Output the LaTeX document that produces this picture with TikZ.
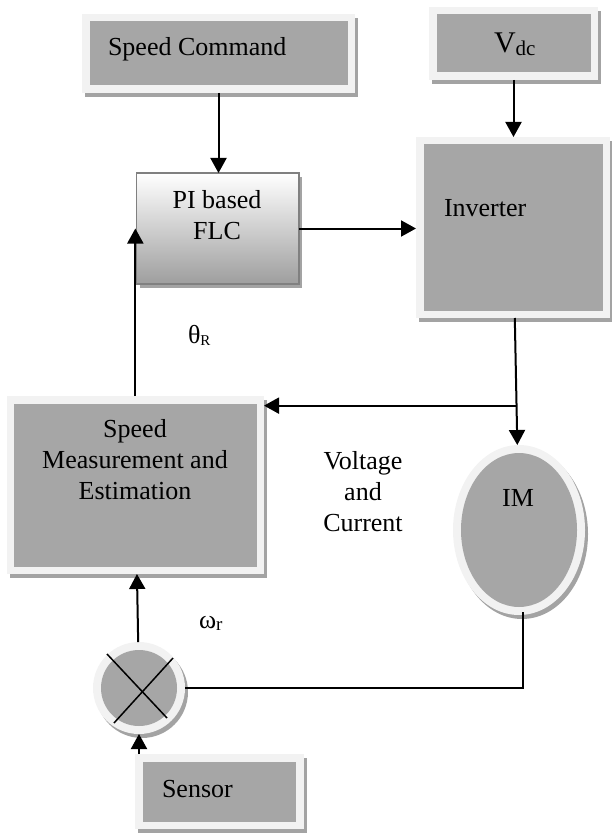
\documentclass[tikz,border=0pt]{standalone}
\usepackage{fontspec}
\setmainfont{Liberation Serif}
\usetikzlibrary{arrows.meta,shadows,shapes.geometric,calc}
\definecolor{boxgray}{HTML}{A6A6A6}
\definecolor{framec}{HTML}{F2F2F2}
\definecolor{shadowc}{HTML}{A3A3A3}
\definecolor{pibot}{HTML}{9E9E9E}
\definecolor{piedge}{HTML}{808080}
\begin{document}
\begin{tikzpicture}[x=1pt,y=-1pt, font=\fontsize{26}{31}\selectfont,
  framebox/.style={rectangle, inner sep=0pt, outer sep=0pt, fill=framec,
    drop shadow={shadow xshift=3pt, shadow yshift=-4pt, fill=shadowc, opacity=1},
    path picture={\fill[boxgray] ([xshift=7.5pt,yshift=-7.5pt]path picture bounding box.north west) rectangle ([xshift=-7.5pt,yshift=7.5pt]path picture bounding box.south east);}},
  pibox/.style={rectangle, inner sep=0pt, outer sep=0pt, draw=piedge, line width=1.4pt,
    top color=white, bottom color=pibot,
    drop shadow={shadow xshift=3pt, shadow yshift=-4pt, fill=shadowc, opacity=1}},
  imshape/.style={ellipse, inner sep=0pt, outer sep=0pt, fill=framec,
    drop shadow={shadow xshift=3pt, shadow yshift=-4pt, fill=shadowc, opacity=1},
    path picture={\fill[boxgray] (path picture bounding box.center) ellipse [x radius=58pt, y radius=77pt];}},
  junc/.style={circle, inner sep=0pt, outer sep=0pt, fill=framec,
    drop shadow={shadow xshift=3pt, shadow yshift=-4pt, fill=shadowc, opacity=1},
    path picture={\fill[boxgray] (path picture bounding box.center) circle [radius=38pt];}},
  arr/.style={line width=2pt, -{Triangle[length=15pt,width=16pt]}},
  plain/.style={line width=1.5pt},
  lbl/.style={inner sep=0pt, outer sep=0pt, align=center},
]
\useasboundingbox (0,0) rectangle (611,834);

% blocks
\node[framebox, minimum width=273pt, minimum height=79pt] (SC) at (218.5,53.5) {};
\node[framebox, minimum width=169pt, minimum height=73pt] (Vdc) at (513.5,43.5) {};
\node[pibox, minimum width=162.5pt, minimum height=111pt] (PI) at (217.75,228.5) {};
\node[framebox, minimum width=194pt, minimum height=181pt] (Inv) at (513,227.5) {};
\node[framebox, minimum width=257.3pt, minimum height=178pt] (SM) at (135.35,485) {};
\node[framebox, minimum width=168.5pt, minimum height=75pt] (Sen) at (219.25,791.5) {};
\node[imshape, minimum width=132pt, minimum height=170pt] (IM) at (519,530) {};
\node[junc, minimum size=92pt] (J) at (139,688) {};

% texts
\node[lbl, anchor=base west] (tSC) at (108,56) {Speed Command};
\node[lbl, anchor=base west] (tVdc) at (494,53) {{\fontsize{30}{30}\selectfont V}\raisebox{-3pt}{\fontsize{21}{21}\selectfont dc}};
\node[lbl, anchor=base] (tPI) at (217,240) {PI based\\FLC};
\node[lbl, anchor=base west] (tInv) at (444,216.7) {Inverter};
\node[lbl, anchor=base] (tSM) at (135,499.5) {Speed\\Measurement and\\Estimation};
\node[lbl, anchor=base] (tVC) at (363,531) {Voltage\\and\\Current};
\node[lbl, anchor=base] (tIM) at (518,506.7) {IM};
\node[lbl, anchor=base west] (tSen) at (162,797) {Sensor};
\node[lbl, anchor=base west] (tth) at (188,343) {θ\raisebox{-2pt}{\fontsize{15}{15}\selectfont R}};
\node[lbl, anchor=base west] (tom) at (199,628) {ω\raisebox{-2pt}{\fontsize{19}{19}\selectfont r}};

% cross in junction
\draw[plain] ([shift={(-32,-34)}]J.center) -- ([shift={(28,30)}]J.center);
\draw[plain] ([shift={(34,-30)}]J.center) -- ([shift={(-25,35)}]J.center);

% connectors
\draw[arr] (SC) -- (SC |- PI.north);
\draw[arr] (Vdc) -- (Vdc |- Inv.north);
\draw[arr] (PI) -- (PI -| Inv.west);
\draw[arr] (Inv) -- (IM);
\coordinate (br) at ($(Inv.south)!0.69!(IM.north)$);
\draw[arr] (br) -- (br -| SM.east);
\draw[arr] (SM.north) -- (SM.north |- PI.west);
\draw[arr] (J) -- (SM);
\draw[arr] (J.south |- Sen.north) -- (J.south);
\draw[plain] ([xshift=4pt,yshift=3pt]IM.south) |- (J.east);
\end{tikzpicture}
\end{document}
